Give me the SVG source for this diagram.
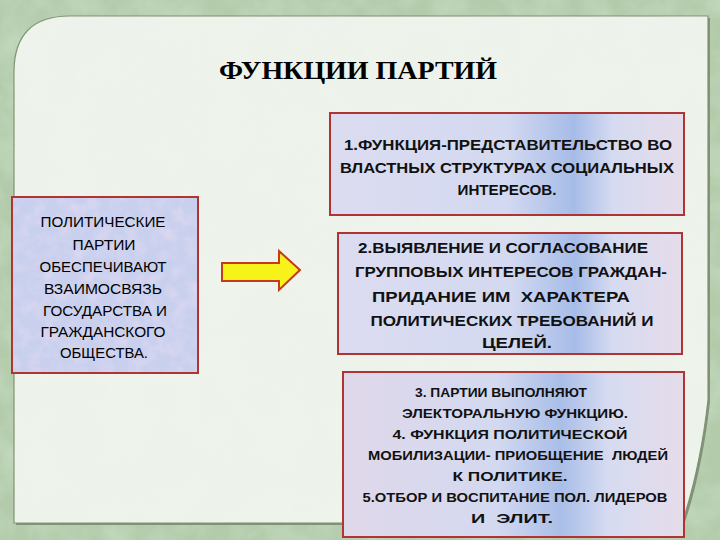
<svg xmlns="http://www.w3.org/2000/svg" width="720" height="540" viewBox="0 0 720 540">
<defs>
<filter id="tex" x="0" y="0" width="100%" height="100%">
<feTurbulence type="fractalNoise" baseFrequency="0.03" numOctaves="4" seed="3" result="n"/>
<feColorMatrix in="n" type="matrix" values="0 0 0 0 0.55  0 0 0 0 0.70  0 0 0 0 0.52  0 0 0 1.6 -0.55" result="c"/>
<feComposite in="c" in2="SourceGraphic" operator="in"/>
</filter>
<filter id="tex2" x="0" y="0" width="100%" height="100%">
<feTurbulence type="fractalNoise" baseFrequency="0.02" numOctaves="3" seed="7" result="n"/>
<feColorMatrix in="n" type="matrix" values="0 0 0 0 0.80  0 0 0 0 0.86  0 0 0 0 0.78  0 0 0 0.8 -0.3" result="c"/>
<feComposite in="c" in2="SourceGraphic" operator="in"/>
</filter>
<filter id="tex3" x="0" y="0" width="100%" height="100%">
<feTurbulence type="fractalNoise" baseFrequency="0.07" numOctaves="3" seed="11" result="n"/>
<feColorMatrix in="n" type="matrix" values="0 0 0 0 0.92  0 0 0 0 0.75  0 0 0 0 0.90  0 0 0 1.4 -0.55" result="c"/>
<feComposite in="c" in2="SourceGraphic" operator="in"/>
</filter>
<linearGradient id="band" x1="0" y1="0" x2="1" y2="0">
<stop offset="0" stop-color="#dcdcf0"/>
<stop offset="0.5" stop-color="#d3d9f0"/>
<stop offset="0.69" stop-color="#a6bce8"/>
<stop offset="0.8" stop-color="#d6dbf1"/>
<stop offset="1" stop-color="#e6dcea"/>
</linearGradient>
<linearGradient id="band3" x1="0" y1="0" x2="1" y2="0">
<stop offset="0" stop-color="#e0d8ea"/>
<stop offset="0.45" stop-color="#d3d9f0"/>
<stop offset="0.64" stop-color="#a9bee8"/>
<stop offset="0.78" stop-color="#d6dbf1"/>
<stop offset="1" stop-color="#e6dcea"/>
</linearGradient>
</defs>
<style>
.box{stroke:#b03434;stroke-width:2}
.t{font-family:"Liberation Sans","DejaVu Sans",sans-serif;font-weight:bold;fill:#111;text-anchor:middle}
.t14{font-size:14px}
.t12{font-size:12.5px}
.t13{font-size:14px;font-weight:normal;fill:#000}
.title{font-family:"Liberation Serif","DejaVu Serif",serif;font-weight:bold;font-size:25px;fill:#000;text-anchor:middle}
</style>
<!-- background -->
<rect x="0" y="0" width="720" height="540" fill="#b3cbab"/>
<rect x="0" y="0" width="720" height="540" fill="#fff" filter="url(#tex)"/>
<!-- panel -->
<path d="M14,523 L14,72 Q14,16 70,16 L708,16 L708,400 Q700,470 682,523 Z" fill="#7f9474" transform="translate(2,2)"/>
<path d="M14,523 L14,72 Q14,16 70,16 L708,16 L708,400 Q700,470 682,523 Z" fill="#eef3ec" stroke="#7d9070" stroke-width="1.2"/>
<path d="M14,523 L14,72 Q14,16 70,16 L708,16 L708,400 Q700,470 682,523 Z" fill="#fff" filter="url(#tex2)" opacity="0.5"/>
<text class="title" x="358" y="79" textLength="278" lengthAdjust="spacingAndGlyphs">ФУНКЦИИ ПАРТИЙ</text>

<g id="node-left">
<rect class="box" x="12" y="197" width="186" height="176" fill="#c8d0ee"/>
<rect x="13" y="198" width="184" height="174" fill="#fff" filter="url(#tex3)" opacity="0.6"/>
<g class="t t13">
<text x="103" y="227" textLength="125" lengthAdjust="spacingAndGlyphs">ПОЛИТИЧЕСКИЕ</text>
<text x="104" y="250" textLength="63" lengthAdjust="spacingAndGlyphs">ПАРТИИ</text>
<text x="103" y="272" textLength="127" lengthAdjust="spacingAndGlyphs">ОБЕСПЕЧИВАЮТ</text>
<text x="103" y="294" textLength="118" lengthAdjust="spacingAndGlyphs">ВЗАИМОСВЯЗЬ</text>
<text x="105" y="316" textLength="124" lengthAdjust="spacingAndGlyphs">ГОСУДАРСТВА И</text>
<text x="103" y="337" textLength="125" lengthAdjust="spacingAndGlyphs">ГРАЖДАНСКОГО</text>
<text x="104" y="358" textLength="88" lengthAdjust="spacingAndGlyphs">ОБЩЕСТВА.</text>
</g>
</g>

<g id="connectors">
<path d="M222,263 L279,263 L279,251 L300,270 L279,290 L279,281 L222,281 Z" fill="#f7f21a" stroke="#c43a1a" stroke-width="2" stroke-linejoin="miter"/>
</g>

<g id="node-1">
<rect class="box" x="330" y="113" width="354" height="102" fill="url(#band)"/>
<g class="t t14">
<text x="508" y="150" textLength="328" lengthAdjust="spacingAndGlyphs">1.ФУНКЦИЯ-ПРЕДСТАВИТЕЛЬСТВО ВО</text>
<text x="507" y="173" textLength="334" lengthAdjust="spacingAndGlyphs">ВЛАСТНЫХ СТРУКТУРАХ СОЦИАЛЬНЫХ</text>
<text x="507" y="195" textLength="99" lengthAdjust="spacingAndGlyphs">ИНТЕРЕСОВ.</text>
</g>
</g>

<g id="node-2">
<rect class="box" x="338" y="233" width="344" height="121" fill="url(#band)"/>
<g class="t t14">
<text x="503" y="253" textLength="290" lengthAdjust="spacingAndGlyphs">2.ВЫЯВЛЕНИЕ И СОГЛАСОВАНИЕ</text>
<text x="511" y="277" textLength="312" lengthAdjust="spacingAndGlyphs">ГРУППОВЫХ ИНТЕРЕСОВ ГРАЖДАН-</text>
<text x="501" y="302" textLength="258" lengthAdjust="spacingAndGlyphs" xml:space="preserve">ПРИДАНИЕ ИМ  ХАРАКТЕРА</text>
<text x="512" y="326" textLength="283" lengthAdjust="spacingAndGlyphs">ПОЛИТИЧЕСКИХ ТРЕБОВАНИЙ И</text>
<text x="517" y="348" textLength="70" lengthAdjust="spacingAndGlyphs">ЦЕЛЕЙ.</text>
</g>
</g>

<g id="node-3">
<rect class="box" x="343" y="372" width="341" height="165" fill="url(#band3)"/>
<g class="t t12">
<text x="501" y="397" textLength="172" lengthAdjust="spacingAndGlyphs">3. ПАРТИИ ВЫПОЛНЯЮТ</text>
<text x="515" y="418" textLength="226" lengthAdjust="spacingAndGlyphs">ЭЛЕКТОРАЛЬНУЮ ФУНКЦИЮ.</text>
<text x="510" y="439" textLength="235" lengthAdjust="spacingAndGlyphs">4. ФУНКЦИЯ ПОЛИТИЧЕСКОЙ</text>
<text x="518" y="460" textLength="300" lengthAdjust="spacingAndGlyphs" xml:space="preserve">МОБИЛИЗАЦИИ- ПРИОБЩЕНИЕ  ЛЮДЕЙ</text>
<text x="510" y="481" textLength="115" lengthAdjust="spacingAndGlyphs">К ПОЛИТИКЕ.</text>
<text x="515" y="502" textLength="305" lengthAdjust="spacingAndGlyphs">5.ОТБОР И ВОСПИТАНИЕ ПОЛ. ЛИДЕРОВ</text>
<text x="512" y="523" textLength="82" lengthAdjust="spacingAndGlyphs" xml:space="preserve">И  ЭЛИТ.</text>
</g>
</g>
</svg>
